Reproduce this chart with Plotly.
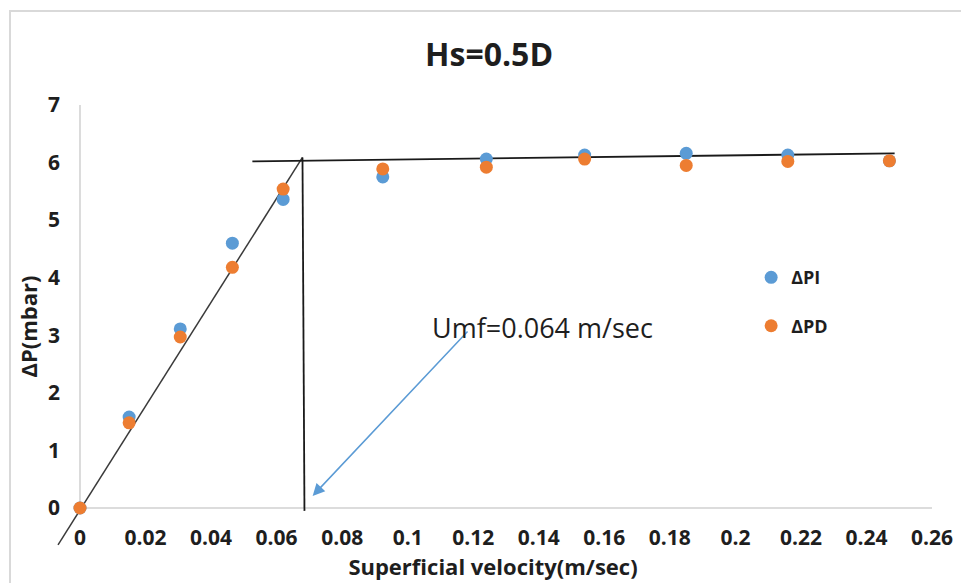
import plotly.graph_objects as go

# ---- data ----
velocity = [0.0, 0.015, 0.0306, 0.0465, 0.062, 0.0924, 0.124, 0.154, 0.185, 0.216, 0.247]
dp_i = [0.0, 1.58, 3.11, 4.60, 5.36, 5.75, 6.06, 6.13, 6.16, 6.13, 6.03]
dp_d = [0.0, 1.48, 2.97, 4.18, 5.54, 5.89, 5.92, 6.06, 5.95, 6.02, 6.03]

x_ticks = [0, 0.02, 0.04, 0.06, 0.08, 0.1, 0.12, 0.14, 0.16, 0.18, 0.2, 0.22, 0.24, 0.26]
x_ticklabels = ["0", "0.02", "0.04", "0.06", "0.08", "0.1", "0.12", "0.14", "0.16", "0.18", "0.2", "0.22", "0.24", "0.26"]
y_ticks = [0, 1, 2, 3, 4, 5, 6, 7]

# guide lines (hand-drawn construction lines in the reference)
fixed_bed_x = [-0.0067, 0.0679]
fixed_bed_y = [-0.64, 6.09]
fluid_bed_x = [0.0526, 0.2486]
fluid_bed_y = [6.02, 6.16]
umf_line_x = [0.0679, 0.0685]
umf_line_y = [6.09, -0.05]
arrow_tail = (0.1187, 3.09)
arrow_head = (0.071, 0.21)
umf_label = "Umf=0.064 m/sec"
umf_label_pos = (0.141, 3.14)

X_MIN, X_MAX = -0.00793, 0.26
Y_MIN, Y_MAX = -0.695, 7.0

BLUE = "#5B9BD5"
ORANGE = "#ED7D31"
TXT = "#1e1e1e"
FONT = "Open Sans"

fig = go.Figure()

fig.add_trace(go.Scatter(x=fixed_bed_x, y=fixed_bed_y, mode="lines",
                         line=dict(color="#3a3a3a", width=1.5), showlegend=False, hoverinfo="skip"))
fig.add_trace(go.Scatter(x=fluid_bed_x, y=fluid_bed_y, mode="lines",
                         line=dict(color="#1a1a1a", width=1.8), showlegend=False, hoverinfo="skip"))
fig.add_trace(go.Scatter(x=umf_line_x, y=umf_line_y, mode="lines",
                         line=dict(color="#1a1a1a", width=1.8), showlegend=False, hoverinfo="skip"))

fig.add_trace(go.Scatter(x=velocity, y=dp_i, mode="markers", name="ΔPI",
                         marker=dict(color=BLUE, size=13), legendgroup="a"))
fig.add_trace(go.Scatter(x=velocity, y=dp_d, mode="markers", name="ΔPD",
                         marker=dict(color=ORANGE, size=13), legendgroup="b"))

# axis lines (from 0 only, like the reference)
fig.add_shape(type="line", xref="x", yref="y", x0=0, x1=X_MAX, y0=0, y1=0,
              line=dict(color="#d0d0d0", width=1.5), layer="below")
fig.add_shape(type="line", xref="x", yref="y", x0=0, x1=0, y0=0, y1=Y_MAX,
              line=dict(color="#d0d0d0", width=1.5), layer="below")

# outer chart frame
fig.add_shape(type="rect", xref="paper", yref="paper", x0=-0.0501, x1=1.2, y0=-0.3, y1=1.212,
              line=dict(color="#d9d9d9", width=2), layer="below")

fig.add_annotation(x=arrow_head[0], y=arrow_head[1], ax=arrow_tail[0], ay=arrow_tail[1],
                   xref="x", yref="y", axref="x", ayref="y", text="", showarrow=True,
                   arrowhead=2, arrowsize=1.6, arrowwidth=1.5, arrowcolor=BLUE)
fig.add_annotation(x=umf_label_pos[0], y=umf_label_pos[1], xref="x", yref="y",
                   text=umf_label, showarrow=False,
                   font=dict(family=FONT, size=27, color=TXT))

fig.update_layout(
    width=961, height=583,
    margin=dict(l=54, r=29, t=105, b=35),
    paper_bgcolor="white", plot_bgcolor="white",
    title=dict(text="<b>Hs=0.5D</b>", x=0.4955, xref="paper", xanchor="center",
               y=1 - 55 / 583, yref="container", yanchor="middle",
               font=dict(family=FONT, size=32, color=TXT)),
    font=dict(family=FONT, color=TXT),
    showlegend=True,
    legend=dict(x=0.794, y=0.652, xanchor="left", yanchor="top",
                font=dict(family=FONT, size=18, color=TXT, weight="bold"),
                bgcolor="rgba(0,0,0,0)", itemwidth=30, tracegroupgap=22,
                traceorder="grouped"),
)

fig.update_xaxes(range=[X_MIN, X_MAX], anchor="free", position=(0 - Y_MIN) / (Y_MAX - Y_MIN),
                 tickvals=x_ticks, ticktext=x_ticklabels, showgrid=False, zeroline=False,
                 showline=False, ticks="", ticklabelstandoff=15,
                 tickfont=dict(family=FONT, size=21, color=TXT, weight="bold"),
                 title=dict(text="<b>Superficial velocity(m/sec)</b>", standoff=7,
                            font=dict(family=FONT, size=22, color=TXT)),
                 automargin=False)
fig.update_yaxes(range=[Y_MIN, Y_MAX], anchor="free", position=(0 - X_MIN) / (X_MAX - X_MIN),
                 tickvals=y_ticks, showgrid=False, zeroline=False,
                 showline=False, ticks="", ticklabelstandoff=20,
                 tickfont=dict(family=FONT, size=21, color=TXT, weight="bold"),
                 title=dict(text="<b>ΔP(mbar)</b>", standoff=3,
                            font=dict(family=FONT, size=22, color=TXT)),
                 automargin=False)

fig.write_html("out.html", config={"displayModeBar": False},
               post_script="document.body.style.margin='0';document.body.style.overflow='hidden';")
